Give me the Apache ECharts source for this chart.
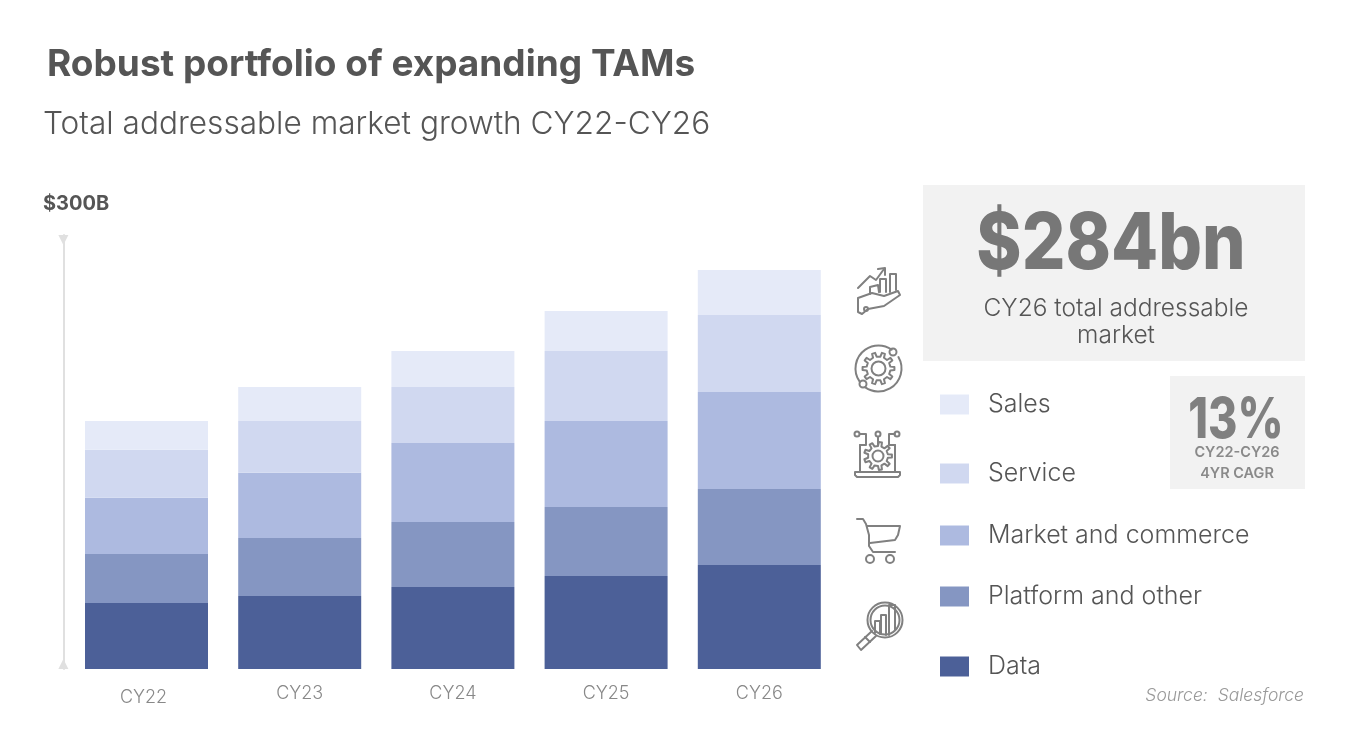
<!DOCTYPE html>
<html><head><meta charset="utf-8">
<style>html,body{margin:0;padding:0;background:#fff}#c{width:1350px;height:736px}</style>
<script src="https://cdn.jsdelivr.net/npm/echarts@6/dist/echarts.min.js"></script>
</head><body><div id="c"></div>
<script>
const categories = ['CY22','CY23','CY24','CY25','CY26'];
const dataVals     = [47.0, 52.0, 58.4, 66.2, 74.0];
const platformVals = [34.9, 41.3, 46.3, 49.1, 54.1];
const marketVals   = [39.9, 46.3, 56.2, 61.2, 69.0];
const serviceVals  = [34.2, 37.0, 39.9, 49.8, 54.8];
const salesVals    = [20.6, 24.2, 25.6, 28.5, 32.1];
const seriesNames  = ['Data','Platform and other','Market and commerce','Service','Sales'];
const seriesColors = ['#4c6098','#8596c2','#adbae0','#d0d8f0','#e5eaf8'];
const seriesValues = [dataVals, platformVals, marketVals, serviceVals, salesVals];
const legendTops   = {Sales:387, Service:456, 'Market and commerce':518, 'Platform and other':579, Data:649};
const legendTextPad = {Sales:[12,0,0,14], Service:[0,0,2,14], 'Market and commerce':[0,0,0,14], 'Platform and other':[0,0,0,14], Data:[0,0,8,14]};

const FONT = 'Inter, "Noto Sans", sans-serif';
const chart = echarts.init(document.getElementById('c'), null, {renderer:'canvas'});

function text(x,y,t,size,weight,color,align,extra,sx){
  return {type:'text',x,y,scaleX:sx||1,silent:true,style:Object.assign({text:t,fontSize:size,fontWeight:weight,fill:color,
    fontFamily:FONT,align:align||'left',verticalAlign:'middle'},extra||{})};
}
const STROKE = {fill:'none',stroke:'#808080',lineWidth:2,lineJoin:'round',lineCap:'round'};
function pl(points){return {type:'polyline',silent:true,shape:{points},style:STROKE};}
function pg(points){return {type:'polygon',silent:true,shape:{points},style:STROKE};}
function ci(cx,cy,r){return {type:'circle',silent:true,shape:{cx,cy,r},style:STROKE};}
function ar(cx,cy,r,a0,a1){return {type:'arc',silent:true,shape:{cx,cy,r,startAngle:a0*Math.PI/180,endAngle:a1*Math.PI/180,clockwise:true},style:STROKE};}
function gear(cx,cy,r1,r2,n){
  const out=[];
  for(let i=0;i<n;i++){
    const a=i*2*Math.PI/n, s=Math.PI/n;
    [[r1,a-s*0.5],[r2,a-s*0.32],[r2,a+s*0.32],[r1,a+s*0.5]].forEach(p=>{
      out.push([cx+p[0]*Math.cos(p[1]),cy+p[0]*Math.sin(p[1])]);
    });
  }
  return pg(out);
}

const graphics = [
  {type:'rect',silent:true,shape:{x:923,y:185,width:382,height:176},style:{fill:'#f2f2f2'}},
  {type:'rect',silent:true,shape:{x:1170,y:376,width:135,height:113},style:{fill:'#f2f2f2'}},
  text(47,65,'Robust portfolio of expanding TAMs',37,700,'#555'),
  text(43,124,'Total addressable market growth CY22-CY26',31.6,300,'#555'),
  text(43,204,'$300B',20,700,'#555'),
  text(1111,246,'$284bn',78,800,'#777','center',null,0.88),
  text(1116,309,'CY26 total addressable',24.5,300,'#555','center'),
  text(1116,336,'market',24.5,300,'#555','center'),
  text(1236,421,'13%',56,800,'#808080','center',null,0.8),
  text(1237,453,'CY22-CY26',14.5,600,'#8a8a8a','center'),
  text(1237,474,'4YR CAGR',14.5,600,'#8a8a8a','center'),
  text(1304,696,'Source:  Salesforce',17.5,300,'#999','right',{fontStyle:'italic'}),
  // icon 1: hand with rising chart
  pl([[858,288],[870,276],[876,280],[884,269]]), pl([[878,269],[885,268],[885,275]]),
  pl([[870,294],[870,287],[878,285],[879,292]]), pl([[880,292],[880,279],[886,279],[886,292]]),
  pl([[890,292],[890,274],[896,274],[896,290]]),
  pg([[858,298],[872,293],[884,296],[898,291],[900,295],[884,306],[868,309],[862,314],[858,312]]), ci(866,309,2),
  // icon 2: gear in orbit
  gear(878.5,368.5,12,16,10), ci(878.5,368.5,7),
  ar(878.5,368.5,23,330,125), ar(878.5,368.5,23,145,305), ci(893,352,3.5), ci(863,384,3.5),
  // icon 3: laptop with gear and nodes
  gear(878,456,10,14,9), ci(878,456,5.5),
  pl([[860,445],[860,472]]), pl([[895,445],[895,472]]),
  pg([[855,472],[900,472],[900,475],[898,477],[857,477],[855,475]]),
  pl([[860,434],[866,434],[866,445],[860,445]]), pl([[878,437],[878,445]]), pl([[895,434],[889,434],[889,445],[895,445]]),
  ci(857,434,2.5), ci(878,434,2.5), ci(897,434,2.5),
  // icon 4: cart
  pl([[857,519],[863,519],[866,524],[869,535],[869,546],[873,552],[895,552]]),
  pl([[867,526],[900,526],[898,535],[895,540],[870,543]]), ci(870,559,4), ci(890,559,4),
  // icon 5: magnifier with bars
  ci(885,620,17.5), ci(885,620,14.5),
  pl([[875,633],[875,621],[880,621],[880,634]]), pl([[881,634],[881,615],[886,615],[886,635]]), pl([[889,635],[889,605],[895,605],[895,630]]),
  pl([[872,631],[857,645],[861,650],[876,636]]), pl([[865,637],[870,642]])
];

const legends = seriesNames.map((n)=>({
  left:935, top:legendTops[n], orient:'horizontal', data:[n], selectedMode:false,
  itemWidth:29, itemHeight:20, itemGap:0,
  textStyle:{fontFamily:FONT,fontSize:25,fontWeight:300,color:'#555',padding:legendTextPad[n]},
  icon:'rect', itemStyle:{borderWidth:0}
}));

chart.setOption({
  animation:false,
  backgroundColor:'#fff',
  legend:legends,
  grid:{left:69.9,width:766,top:235,height:434,containLabel:false},
  xAxis:{type:'category',data:categories,
    axisLine:{show:false},axisTick:{show:false},
    axisLabel:{margin:16,fontFamily:FONT,fontSize:18,fontWeight:300,color:'#888',
      formatter:(v,i)=>i===0?`{a|${v}}`:`{b|${v}}`,
      rich:{a:{padding:[4,6,0,0],fontFamily:FONT,fontSize:18,fontWeight:300,color:'#888'},
            b:{fontFamily:FONT,fontSize:18,fontWeight:300,color:'#888'}}}},
  yAxis:{type:'value',min:0,max:308.9,offset:6.5,
    axisLine:{show:true,onZero:false,lineStyle:{color:'#e0e0e0',width:2},
      symbol:['path://M0 0L10 0L5 10Z','path://M0 0L10 0L5 10Z'],symbolSize:[11,10],symbolOffset:[5,-5]},
    axisTick:{show:false},axisLabel:{show:false},splitLine:{show:false}},
  series:seriesNames.map((n,i)=>({name:n,type:'bar',stack:'tam',data:seriesValues[i],
    barWidth:123,itemStyle:{color:seriesColors[i]}})),
  graphic:graphics
});
</script></body></html>
